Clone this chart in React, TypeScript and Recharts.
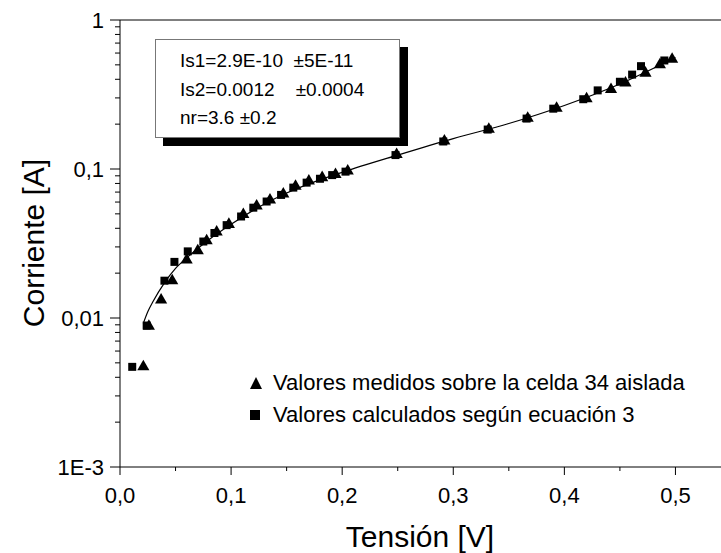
import { ComposedChart, Line, Scatter, XAxis, YAxis, ReferenceLine } from "recharts";

// measured (triangles)
const measuredV = [0.021, 0.026, 0.037, 0.047, 0.06, 0.07, 0.078, 0.087, 0.098, 0.111, 0.123, 0.135, 0.147, 0.158, 0.17, 0.182, 0.194, 0.205, 0.249, 0.292, 0.332, 0.367, 0.393, 0.42, 0.442, 0.455, 0.473, 0.486, 0.497];
const measuredI = [0.0047, 0.0088, 0.0132, 0.0178, 0.0245, 0.0283, 0.033, 0.0378, 0.0425, 0.0495, 0.0565, 0.062, 0.068, 0.0765, 0.083, 0.0875, 0.092, 0.097, 0.125, 0.154, 0.185, 0.219, 0.256, 0.296, 0.342, 0.378, 0.44, 0.5, 0.545];

// calculated (squares)
const calcV = [0.011, 0.024, 0.04, 0.049, 0.061, 0.075, 0.085, 0.096, 0.109, 0.12, 0.132, 0.145, 0.156, 0.168, 0.18, 0.191, 0.203, 0.248, 0.291, 0.331, 0.366, 0.39, 0.417, 0.43, 0.45, 0.461, 0.469, 0.49];
const calcI = [0.0047, 0.0089, 0.0178, 0.0238, 0.028, 0.0326, 0.0372, 0.042, 0.048, 0.055, 0.0605, 0.067, 0.075, 0.081, 0.086, 0.091, 0.096, 0.124, 0.153, 0.184, 0.218, 0.254, 0.294, 0.337, 0.385, 0.43, 0.49, 0.535];

// fitted curve
const fitV = [0.021, 0.025, 0.03, 0.04, 0.05, 0.06, 0.08, 0.1, 0.125, 0.15, 0.175, 0.2, 0.25, 0.3, 0.35, 0.4, 0.45, 0.5];
const fitI = [0.0092, 0.011, 0.013, 0.0172, 0.0215, 0.0253, 0.0335, 0.0425, 0.0555, 0.069, 0.082, 0.095, 0.124, 0.16, 0.202, 0.267, 0.372, 0.56];

const xTicks = [0, 0.05, 0.1, 0.15, 0.2, 0.25, 0.3, 0.35, 0.4, 0.45, 0.5];
const xTickLabels = ["0,0", "", "0,1", "", "0,2", "", "0,3", "", "0,4", "", "0,5"];
const yTicks = [
  0.001, 0.002, 0.003, 0.004, 0.005, 0.006, 0.007, 0.008, 0.009,
  0.01, 0.02, 0.03, 0.04, 0.05, 0.06, 0.07, 0.08, 0.09,
  0.1, 0.2, 0.3, 0.4, 0.5, 0.6, 0.7, 0.8, 0.9, 1,
];
const yMajor = [0.001, 0.01, 0.1, 1];
const yMajorLabels = ["1E-3", "0,01", "0,1", "1"];

const fitParams = ["Is1=2.9E-10  \u00b15E-11", "Is2=0.0012    \u00b10.0004", "nr=3.6 \u00b10.2"];
const legendLabels = ["Valores medidos sobre la celda 34 aislada", "Valores calculados según ecuación 3"];

const toPoints = (vs: number[], is: number[]) => vs.map((v, k) => ({ v, i: is[k] }));

const measured = toPoints(measuredV, measuredI);
const calculated = toPoints(calcV, calcI);
const fit = toPoints(fitV, fitI);

const FONT = "'Liberation Sans', Arial, sans-serif";

const XTick = (props: any) => {
  const { x, y, payload } = props;
  const idx = xTicks.findIndex((t) => Math.abs(t - payload.value) < 1e-6);
  const label = idx >= 0 ? xTickLabels[idx] : "";
  const major = label !== "";
  return (
    <g>
      <line x1={x} x2={x} y1={y} y2={y + (major ? 8 : 4)} stroke="#000" strokeWidth={1} />
      {major && (
        <text x={x} y={y + 36} textAnchor="middle" fontSize={22} fontFamily={FONT} fill="#000">
          {label}
        </text>
      )}
    </g>
  );
};

const YTick = (props: any) => {
  const { x, y, payload } = props;
  const idx = yMajor.findIndex((t) => Math.abs(t - payload.value) / t < 1e-6);
  const major = idx >= 0;
  return (
    <g>
      <line x1={x - (major ? 10 : 5)} x2={x} y1={y} y2={y} stroke="#000" strokeWidth={1} />
      {major && (
        <text x={x - 16} y={y} dy="0.35em" textAnchor="end" fontSize={22} fontFamily={FONT} fill="#000">
          {yMajorLabels[idx]}
        </text>
      )}
    </g>
  );
};

const Triangle = ({ size = 12 }: { size?: number }) => (
  <svg width={size + 2} height={size + 2} style={{ display: "block" }}>
    <polygon points={`${1},${size + 1} ${size / 2 + 1},${1} ${size + 1},${size + 1}`} fill="#000" />
  </svg>
);

const Square = ({ size = 10 }: { size?: number }) => (
  <svg width={size + 2} height={size + 2} style={{ display: "block" }}>
    <rect x={1} y={1} width={size} height={size} fill="#000" />
  </svg>
);

export default function App() {
  return (
    <div style={{ position: "absolute", left: 0, top: 0, width: 721, height: 553, background: "#fff", fontFamily: FONT }}>
      <ComposedChart width={721} height={553} margin={{ top: 20, right: 0, bottom: 0, left: 0 }}>
        <XAxis
          type="number"
          dataKey="v"
          domain={[0, 0.541]}
          allowDataOverflow
          ticks={xTicks}
          interval={0}
          tick={<XTick />}
          tickLine={false}
          tickSize={0}
          tickMargin={0}
          height={86}
          axisLine={{ stroke: "#000", strokeWidth: 1 }}
        />
        <YAxis
          type="number"
          dataKey="i"
          scale="log"
          domain={[0.001, 1]}
          allowDataOverflow
          ticks={yTicks}
          interval={0}
          tick={<YTick />}
          tickLine={false}
          tickSize={0}
          tickMargin={0}
          width={120}
          axisLine={{ stroke: "#000", strokeWidth: 1 }}
        />
        <ReferenceLine y={1} stroke="#000" strokeWidth={1} ifOverflow="visible" />
        <Line
          data={fit}
          dataKey="i"
          type="monotone"
          stroke="#000"
          strokeWidth={1.2}
          dot={false}
          activeDot={false}
          isAnimationActive={false}
        />
        <Scatter data={measured} dataKey="i" shape="triangle" size={70} fill="#000" isAnimationActive={false} />
        <Scatter data={calculated} dataKey="i" shape="square" size={90} fill="#000" isAnimationActive={false} />
      </ComposedChart>

      {/* axis titles */}
      <div
        style={{
          position: "absolute",
          left: 420,
          top: 537,
          transform: "translate(-50%, -50%)",
          fontSize: 30,
          whiteSpace: "nowrap",
          lineHeight: 1,
        }}
      >
        Tensión [V]
      </div>
      <div
        style={{
          position: "absolute",
          left: 34,
          top: 243,
          transform: "translate(-50%, -50%) rotate(-90deg)",
          fontSize: 30,
          whiteSpace: "nowrap",
          lineHeight: 1,
        }}
      >
        Corriente [A]
      </div>

      {/* fit parameters box */}
      <div
        style={{
          position: "absolute",
          left: 155,
          top: 39,
          width: 245,
          height: 99,
          border: "1px solid #777",
          background: "#fff",
          boxShadow: "8px 8px 0 #000",
          boxSizing: "border-box",
          paddingTop: 7,
        }}
      >
        {fitParams.map((t) => (
          <div key={t} style={{ fontSize: 19, lineHeight: "28.5px", paddingLeft: 24, whiteSpace: "pre" }}>
            {t}
          </div>
        ))}
      </div>

      {/* legend */}
      {legendLabels.map((t, k) => (
        <div
          key={t}
          style={{
            position: "absolute",
            left: 249,
            top: 367 + k * 32,
            height: 32,
            display: "flex",
            alignItems: "center",
            whiteSpace: "nowrap",
          }}
        >
          <div style={{ width: 24 }}>{k === 0 ? <Triangle /> : <Square />}</div>
          <span style={{ fontSize: 22 }}>{t}</span>
        </div>
      ))}
    </div>
  );
}
